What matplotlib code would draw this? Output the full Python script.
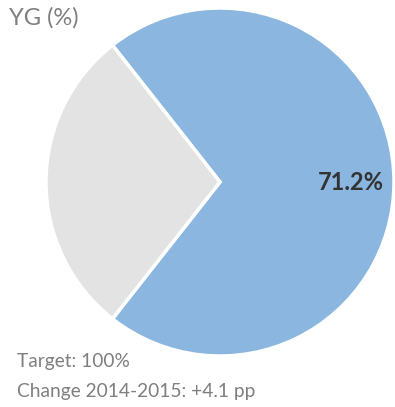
import matplotlib
matplotlib.use("Agg")
import matplotlib.pyplot as plt

categories = ["YG", "Remaining"]
values = [71.2, 28.8]
colors = ["#8AB6E0", "#E3E3E3"]
title = "YG (%)"
footer_lines = ["Target: 100%", "Change 2014-2015: +4.1 pp"]

W, H = 395, 407
fig = plt.figure(figsize=(W / 100, H / 100), dpi=100)
plt.rcParams['font.family'] = ['Lato', 'DejaVu Sans']

cx, cy, r = 220, 182, 174
ax = fig.add_axes([(cx - r) / W, 1 - (cy + r) / H, 2 * r / W, 2 * r / H])
start = -values[0] / 100 * 360 / 2
wedges, _ = ax.pie(values, colors=colors, startangle=start, counterclock=True,
                   wedgeprops=dict(edgecolor="white", linewidth=2.5))
ax.set_xlim(-1, 1)
ax.set_ylim(-1, 1)
ax.set_aspect("equal")
ax.axis("off")
ax.text(0.75, 0.0, f"{values[0]:.1f}%", ha="center", va="center",
        fontsize=17, fontweight="bold", color="#333333")

fig.text(9 / W, 1 - 18 / H, title, ha="left", va="center", fontsize=17, color="#7F7F7F")
fig.text(17 / W, 1 - 362 / H, footer_lines[0], ha="left", va="center", fontsize=13.8, color="#7F7F7F")
fig.text(17 / W, 1 - 392 / H, footer_lines[1], ha="left", va="center", fontsize=13.8, color="#7F7F7F")

fig.savefig("out.png", dpi=100)
